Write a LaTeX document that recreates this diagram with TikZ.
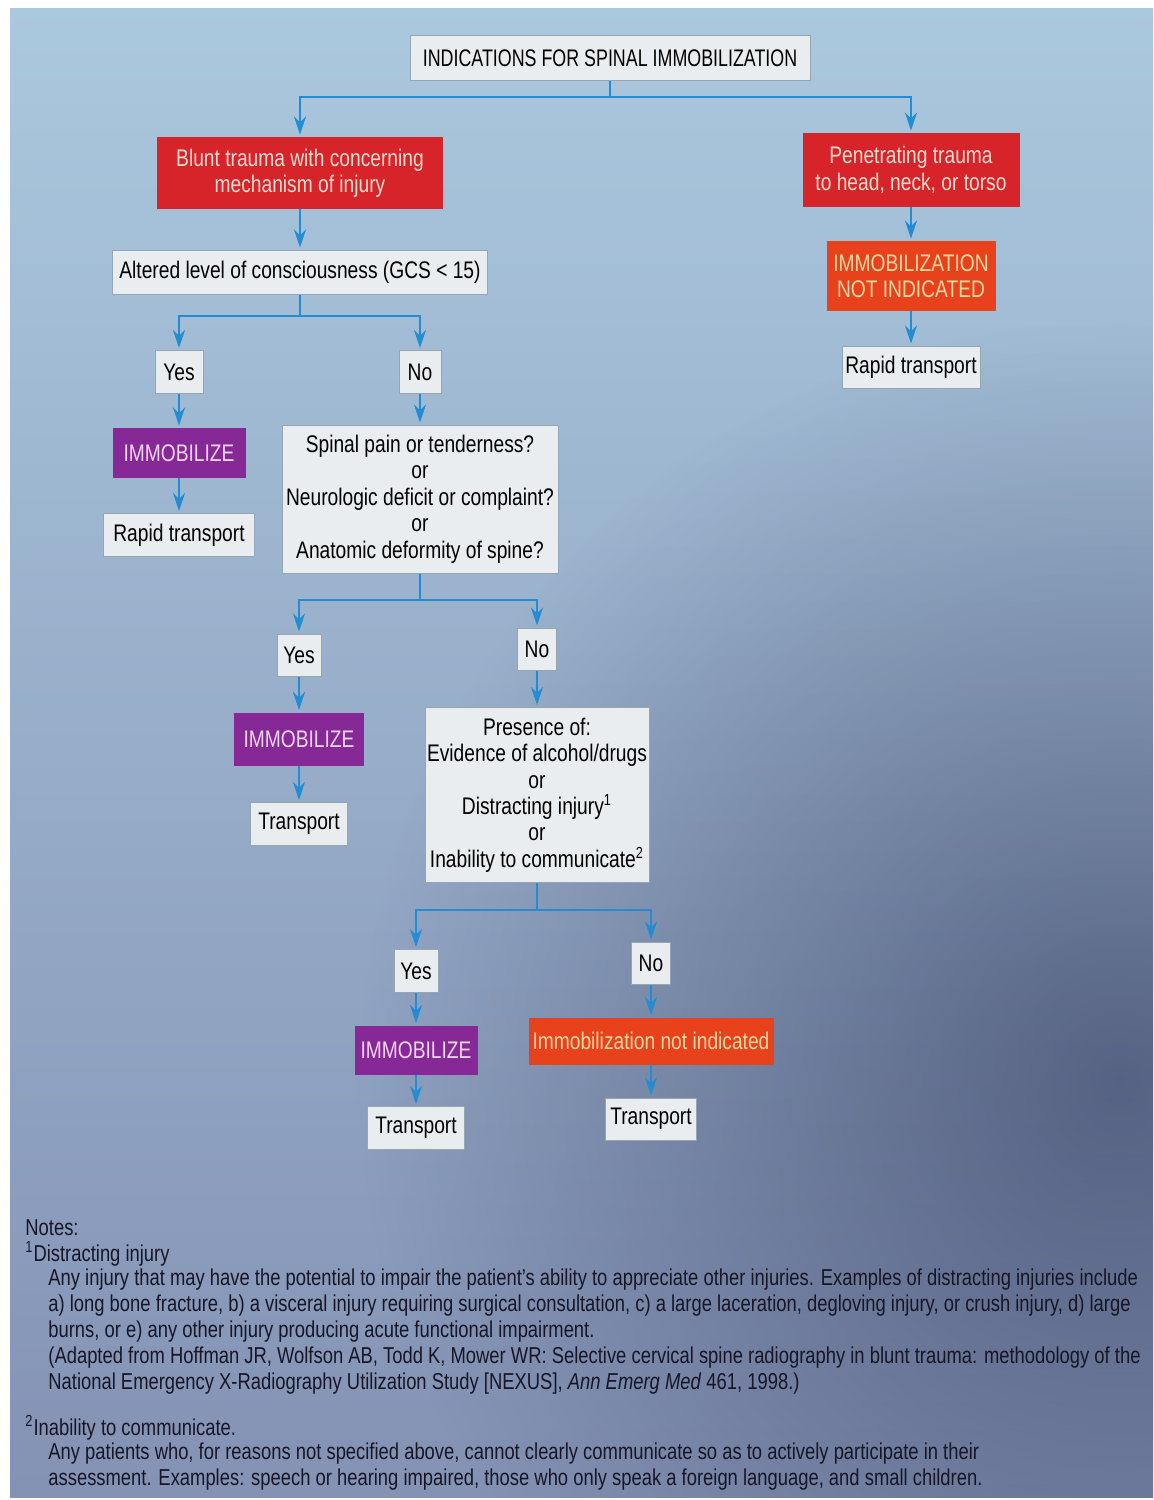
\documentclass[tikz,border=0pt]{standalone}
\usepackage{fontspec}
\setmainfont{Liberation Sans}[FakeStretch=0.8]
\usetikzlibrary{arrows.meta,fadings}
\tikzfading[name=softout, inner color=transparent!0, outer color=transparent!100]
\definecolor{pagetop}{RGB}{170,200,222}
\definecolor{pagebot}{RGB}{132,146,180}
\definecolor{shadow}{RGB}{30,36,70}
\definecolor{boxfill}{RGB}{234,237,239}
\definecolor{boxline}{RGB}{150,165,180}
\definecolor{redc}{RGB}{214,36,42}
\definecolor{redtext}{RGB}{246,218,205}
\definecolor{orc}{RGB}{232,66,28}
\definecolor{ortext}{RGB}{240,214,160}
\definecolor{purc}{RGB}{134,40,150}
\definecolor{purtext}{RGB}{242,214,240}
\definecolor{arrc}{RGB}{36,140,210}
\definecolor{notec}{RGB}{22,22,38}
\tikzset{
  x=0.5pt, y=-0.5pt,
  base/.style={inner sep=0pt, align=center, font=\fontsize{12}{13.2}\selectfont},
  wbox/.style={base, draw=boxline, fill=boxfill, line width=0.5pt, text=black},
  rbox/.style={base, fill=redc, text=redtext},
  obox/.style={base, fill=orc, text=ortext},
  pbox/.style={base, fill=purc, text=purtext},
  ln/.style={draw=arrc, line width=1.3pt},
  arr/.style={draw=arrc, line width=1.3pt, -{Stealth[length=9pt,width=6pt]}, shorten >=1pt},
  note/.style={anchor=west, inner sep=0pt, text=notec, font=\fontsize{11.5}{13}\selectfont},
}
\begin{document}
\begin{tikzpicture}
\useasboundingbox (0,0) rectangle (1153,1500);
\fill[white] (0,0) rectangle (1153,1500);
\shade[top color=pagetop, bottom color=pagebot] (10,8) rectangle (1153,1497);
\begin{scope}
\clip (10,8) rectangle (1153,1497);
\fill[shadow, opacity=0.5, path fading=softout] (1120,1080) circle (760);
\end{scope}

% nodes
\node[wbox, minimum width=200pt, minimum height=22.5pt] (title) at (610,58) {\scalebox{0.93}[1]{INDICATIONS FOR SPINAL IMMOBILIZATION}};
\node[rbox, minimum width=143pt, minimum height=36pt] (blunt) at (300,173) {Blunt trauma with concerning\\mechanism of injury};
\node[rbox, minimum width=108.5pt, minimum height=37pt] (pen) at (911,170) {Penetrating trauma\\to head, neck, or torso};
\node[obox, minimum width=84.5pt, minimum height=35pt] (notind) at (911,276) {IMMOBILIZATION\\NOT INDICATED};
\node[wbox, minimum width=69pt, minimum height=21pt] (rapid2) at (911,367) {Rapid transport};
\node[wbox, minimum width=187.5pt, minimum height=22pt] (alt) at (300,272) {Altered level of consciousness (GCS {<} 15)};
\node[wbox, minimum width=24pt, minimum height=21.5pt] (yes1) at (179,372) {Yes};
\node[wbox, minimum width=21pt, minimum height=21.5pt] (no1) at (420,372) {No};
\node[pbox, minimum width=66.5pt, minimum height=25pt] (imm1) at (179,453) {IMMOBILIZE};
\node[wbox, minimum width=75.5pt, minimum height=21.5pt] (rapid1) at (179,535) {Rapid transport};
\node[wbox, minimum width=138pt, minimum height=74pt] (spinal) at (420,499) {Spinal pain or tenderness?\\or\\Neurologic deficit or complaint?\\or\\Anatomic deformity of spine?};
\node[wbox, minimum width=22pt, minimum height=21pt] (yes2) at (299,655) {Yes};
\node[wbox, minimum width=19.5pt, minimum height=21pt] (no2) at (537,649) {No};
\node[pbox, minimum width=65pt, minimum height=26.5pt] (imm2) at (299,739) {IMMOBILIZE};
\node[wbox, minimum width=48.5pt, minimum height=21.5pt] (trans1) at (299,824) {Transport};
\node[wbox, minimum width=112pt, minimum height=87.5pt] (pres) at (537,795) {Presence of:\\Evidence of alcohol/drugs\\or\\Distracting injury\textsuperscript{1}\\or\\Inability to communicate\textsuperscript{2}};
\node[wbox, minimum width=22pt, minimum height=21.5pt] (yes3) at (416,971) {Yes};
\node[wbox, minimum width=19.5pt, minimum height=21pt] (no3) at (651,963) {No};
\node[pbox, minimum width=61.5pt, minimum height=24.5pt] (imm3) at (416,1050) {IMMOBILIZE};
\node[wbox, minimum width=48.5pt, minimum height=21.5pt] (trans2) at (416,1128) {Transport};
\node[obox, minimum width=122.5pt, minimum height=23.5pt] (notind2) at (651,1041) {Immobilization not indicated};
\node[wbox, minimum width=45.5pt, minimum height=21pt] (trans3) at (651,1119) {Transport};

% junctions
\coordinate (j1) at (610,97);
\coordinate (j2) at (300,316);
\coordinate (j3) at (420,600);
\coordinate (j4) at (537,910);

\draw[ln] (title.south) -- (j1);
\draw[arr] (j1) -| (blunt.north);
\draw[arr] (j1) -| (pen.north);
\draw[arr] (pen.south) -- (notind.north);
\draw[arr] (notind.south) -- (rapid2.north);
\draw[arr] (blunt.south) -- (alt.north);
\draw[ln] (alt.south) -- (j2);
\draw[arr] (j2) -| (yes1.north);
\draw[arr] (j2) -| (no1.north);
\draw[arr] (yes1.south) -- (imm1.north);
\draw[arr] (imm1.south) -- (rapid1.north);
\draw[arr] (no1.south) -- (spinal.north);
\draw[ln] (spinal.south) -- (j3);
\draw[arr] (j3) -| (yes2.north);
\draw[arr] (j3) -| (no2.north);
\draw[arr] (yes2.south) -- (imm2.north);
\draw[arr] (imm2.south) -- (trans1.north);
\draw[arr] (no2.south) -- (pres.north);
\draw[ln] (pres.south) -- (j4);
\draw[arr] (j4) -| (yes3.north);
\draw[arr] (j4) -| (no3.north);
\draw[arr] (yes3.south) -- (imm3.north);
\draw[arr] (imm3.south) -- (trans2.north);
\draw[arr] (no3.south) -- (notind2.north);
\draw[arr] (notind2.south) -- (trans3.north);

% notes
\node[note] (n0) at (25,1228) {Notes:};
\node[note] (n1) at (25,1254) {\textsuperscript{1}Distracting injury};
\node[note] (n2) at (48,1280) {Any injury that may have the potential to impair the patient's ability to appreciate other injuries. Examples of distracting injuries include};
\node[note] (n3) at (48,1306) {a) long bone fracture, b) a visceral injury requiring surgical consultation, c) a large laceration, degloving injury, or crush injury, d) large};
\node[note] (n4) at (48,1332) {burns, or e) any other injury producing acute functional impairment.};
\node[note] (n5) at (48,1358) {(Adapted from Hoffman JR, Wolfson AB, Todd K, Mower WR: Selective cervical spine radiography in blunt trauma: methodology of the};
\node[note] (n6) at (48,1384) {National Emergency X-Radiography Utilization Study [NEXUS], \textit{Ann Emerg Med} 461, 1998.)};
\node[note] (n7) at (25,1428) {\textsuperscript{2}Inability to communicate.};
\node[note] (n8) at (48,1454) {Any patients who, for reasons not specified above, cannot clearly communicate so as to actively participate in their};
\node[note] (n9) at (48,1480) {assessment. Examples: speech or hearing impaired, those who only speak a foreign language, and small children.};
\end{tikzpicture}
\end{document}
